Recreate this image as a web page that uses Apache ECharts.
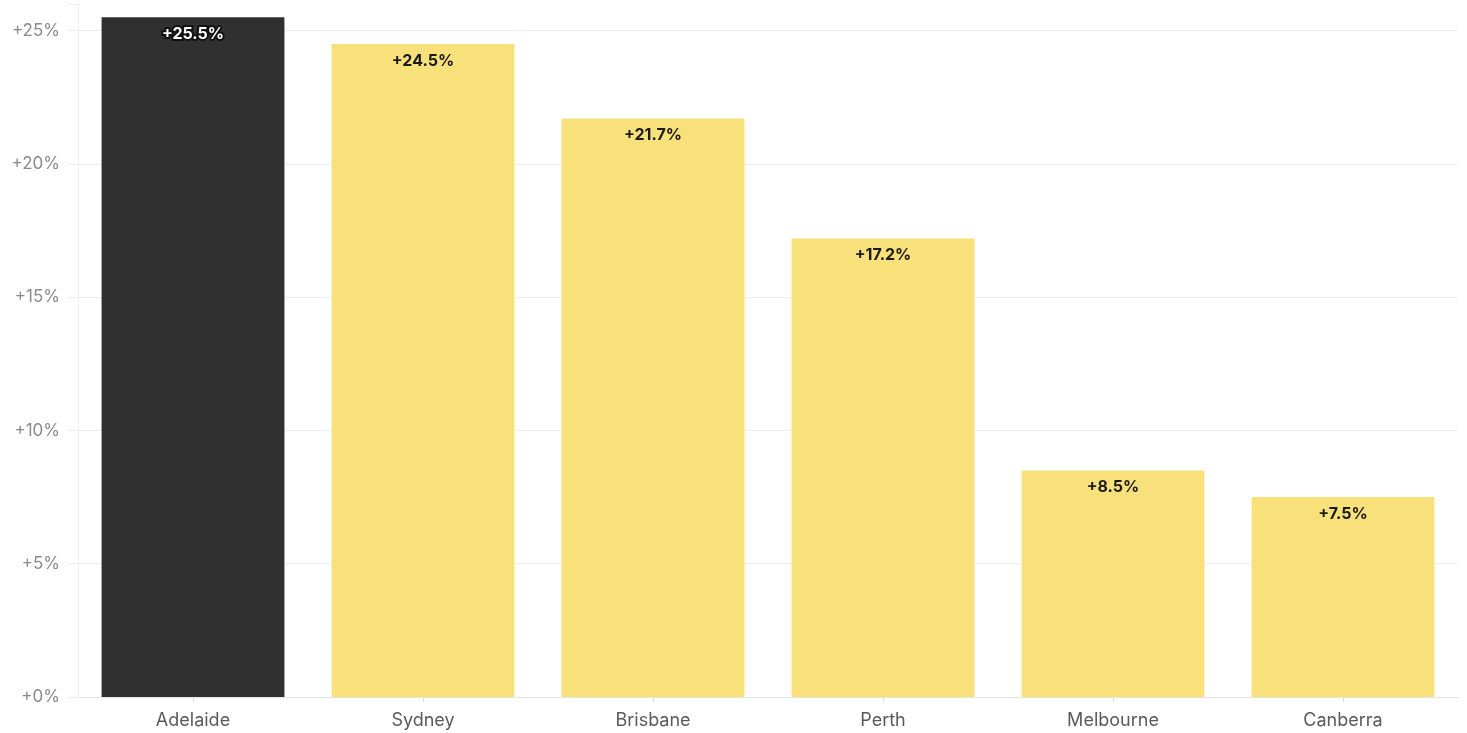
<!DOCTYPE html>
<html>
<head>
<meta charset="utf-8">
<script src="https://cdn.jsdelivr.net/npm/echarts@6/dist/echarts.min.js"></script>
<style>
  html, body { margin: 0; padding: 0; background: #ffffff; }
  #chart { width: 1467px; height: 733px; }
</style>
</head>
<body>
<div id="chart"></div>
<script>
// Growth by city, percent
const cities = ['Adelaide', 'Sydney', 'Brisbane', 'Perth', 'Melbourne', 'Canberra'];
const growth = [25.5, 24.5, 21.7, 17.2, 8.5, 7.5];
const highlightCity = 'Adelaide';

const fmt = v => '+' + v + '%';

const chart = echarts.init(document.getElementById('chart'));

const data = cities.map((c, i) => {
  const hi = c === highlightCity;
  return {
    value: growth[i],
    itemStyle: { color: hi ? '#303030' : '#F8E07A' },
    label: hi
      ? { color: '#ffffff', textBorderColor: '#111111', textBorderWidth: 4 }
      : { color: '#1a1a1a' }
  };
});

chart.setOption({
  animation: false,
  grid: { left: 78, right: 9, top: 4, bottom: 36 },
  xAxis: {
    type: 'category',
    data: cities,
    axisLine: { show: true, lineStyle: { color: '#e6e6e6' } },
    axisTick: { show: true, alignWithLabel: true, length: 5, lineStyle: { color: '#dddddd' } },
    axisLabel: { color: '#5a5a5a', fontSize: 18, fontFamily: 'Inter', margin: 15 }
  },
  yAxis: {
    type: 'value',
    min: 0,
    max: 26,
    interval: 5,
    axisLine: { show: true, lineStyle: { color: '#efefef' } },
    axisTick: { show: true, length: 10, lineStyle: { color: '#ececec' } },
    splitLine: { show: true, showMaxLine: false, lineStyle: { color: '#eeeeee' } },
    axisLabel: {
      color: '#8a8a8a', fontSize: 17, fontFamily: 'Inter', margin: 18,
      formatter: v => (v % 5 === 0 ? fmt(v) : '')
    }
  },
  series: [{
    type: 'bar',
    data: data,
    barCategoryGap: '20.5%',
    label: {
      show: true,
      position: 'insideTop',
      distance: 9,
      fontSize: 16,
      fontWeight: 'bold',
      fontFamily: 'Inter',
      formatter: p => fmt(p.value)
    }
  }]
});
</script>
</body>
</html>
